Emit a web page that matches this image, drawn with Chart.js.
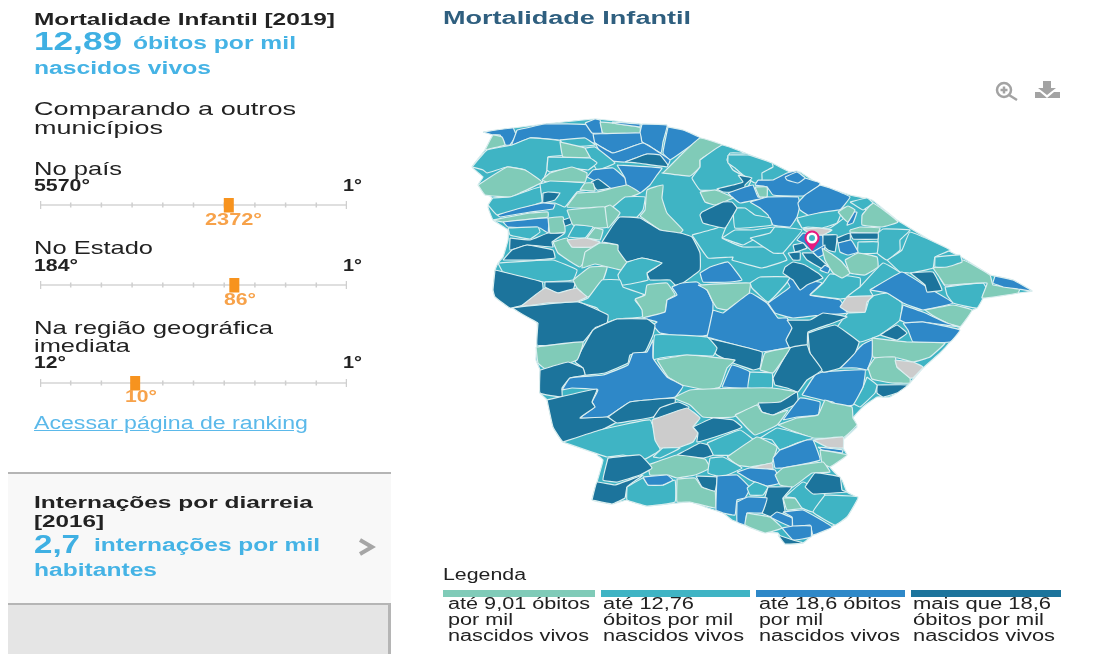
<!DOCTYPE html>
<html lang="pt-BR">
<head>
<meta charset="UTF-8">
<title>Mortalidade Infantil</title>
<script src="https://cdn.jsdelivr.net/npm/chart.js"></script>
<style>
html, body { margin: 0; padding: 0; background: #fff; }
body { width: 1099px; height: 654px; position: relative; overflow: hidden; font-family: "Liberation Sans", Arial, sans-serif; color: #222; }
.t { position: absolute; white-space: nowrap; transform-origin: left center; line-height: 1; filter: blur(0.25px); }
.b { font-weight: bold; }
.big { font-weight: bold; color: #3fb0e3; font-size: 25px; }
.unit { font-weight: bold; color: #45b3e5; font-size: 17.5px; }
.rank { font-weight: bold; color: #f7a24a; font-size: 16px; }
.body { font-size: 19px; }
.link { font-size: 18px; color: #5bb9ea; text-decoration: underline; }
.leg { font-size: 16px; }
#panel { position: absolute; left: 8px; top: 472px; width: 383px; height: 131px; background: #f8f8f8; border-top: 2px solid #b5b5b5; }
#panel2 { position: absolute; left: 8px; top: 603px; width: 380px; height: 51px; background: #e5e5e5; border-top: 2px solid #b5b5b5; border-right: 3px solid #b5b5b5; }
canvas { position: absolute; }
#map { left: 440px; top: 100px; filter: blur(0.5px); }
.bar { position: absolute; top: 590px; height: 7px; }
svg { position: absolute; }
</style>
</head>
<body>
<div id="panel"></div>
<div id="panel2"></div>

<div class="t b" style="left:34px;top:20px;font-size:16px" data-w="301">Mortalidade Infantil [2019]</div>
<div class="t big" style="left:34px;top:41px" data-w="88">12,89</div>
<div class="t unit" style="left:133px;top:44px" data-w="163">óbitos por mil</div>
<div class="t unit" style="left:34px;top:69px" data-w="177">nascidos vivos</div>
<div class="t body" style="left:34px;top:108px" data-w="262">Comparando a outros</div>
<div class="t body" style="left:34px;top:127px" data-w="129">municípios</div>

<div class="t body" style="left:34px;top:168px" data-w="88">No país</div>
<div class="t b" style="left:34px;top:186px;font-size:16px" data-w="56">5570°</div>
<div class="t b" style="left:343px;top:186px;font-size:16px" data-w="19">1°</div>
<canvas id="slider0" width="320" height="24" style="left:34px;top:193px"></canvas>
<div class="t rank" style="left:205px;top:220px" data-w="57">2372°</div>

<div class="t body" style="left:34px;top:247px" data-w="119">No Estado</div>
<div class="t b" style="left:34px;top:266px;font-size:16px" data-w="44">184°</div>
<div class="t b" style="left:343px;top:266px;font-size:16px" data-w="19">1°</div>
<canvas id="slider1" width="320" height="24" style="left:34px;top:273px"></canvas>
<div class="t rank" style="left:224px;top:300px" data-w="32">86°</div>

<div class="t body" style="left:34px;top:327px" data-w="239">Na região geográfica</div>
<div class="t body" style="left:34px;top:345px" data-w="96">imediata</div>
<div class="t b" style="left:34px;top:363px;font-size:16px" data-w="32">12°</div>
<div class="t b" style="left:343px;top:363px;font-size:16px" data-w="19">1°</div>
<canvas id="slider2" width="320" height="24" style="left:34px;top:371px"></canvas>
<div class="t rank" style="left:125px;top:397px" data-w="32">10°</div>

<div class="t link" style="left:34px;top:423px" data-w="274">Acessar página de ranking</div>

<div class="t b" style="left:34px;top:503px;font-size:16px" data-w="279">Internações por diarreia</div>
<div class="t b" style="left:34px;top:522px;font-size:16px" data-w="70">[2016]</div>
<div class="t big" style="left:34px;top:544px" data-w="46">2,7</div>
<div class="t unit" style="left:94px;top:546px" data-w="226">internações por mil</div>
<div class="t unit" style="left:34px;top:571px" data-w="123">habitantes</div>
<svg style="left:356px;top:538px" width="22" height="18"><polyline points="4,2 16,9 4,16" fill="none" stroke="#a6a6a6" stroke-width="4"/></svg>

<div class="t b" style="left:443px;top:18px;font-size:18px;color:#2f5f7f" data-w="248">Mortalidade Infantil</div>
<svg style="left:990px;top:80px" width="32" height="22"><circle cx="14" cy="10" r="7" fill="none" stroke="#a3a3a3" stroke-width="2.5"/><path d="M19 15 L27 20 M10.5 10 H17.5 M14 6.5 V13.5" stroke="#a3a3a3" stroke-width="2.5"/></svg>
<svg style="left:1033px;top:80px" width="30" height="20"><path d="M10 1 H18 V8 H23 L14 15 L5 8 H10 Z M2 12 H7 L14 18 L21 12 H27 V18 H2 Z" fill="#a3a3a3"/></svg>

<canvas id="map" width="640" height="470"></canvas>

<div class="t leg" style="left:443px;top:575px" data-w="83">Legenda</div>
<div id="legend"></div>

<script>
// map classes, from the legend
const classColors = ["#80cbb8", "#3fb4c4", "#2e88c8", "#1c749c", "#cccccc"];
const legendLines = [
    ["até 9,01 óbitos", "por mil", "nascidos vivos"],
    ["até 12,76", "óbitos por mil", "nascidos vivos"],
    ["até 18,6 óbitos", "por mil", "nascidos vivos"],
    ["mais que 18,6", "óbitos por mil", "nascidos vivos"]
];

// rank sliders: 11 marks, the marker sits on this 0-10 axis
const sliderTicks = [0, 1, 2, 3, 4, 5, 6, 7, 8, 9, 10];
const sliderMarks = [6.15, 6.33, 3.1];

// municipalities: [class, [x,y, x,y, ...]], painted in this order
const stateOutline = [483,132,513,128,545,124,595,119,640,124,668,127,700,138,722,145,745,153,772,163,790,172,800,172,820,185,850,195,872,200,897,220,943,248,963,258,990,275,995,276,1013,280,1032,291,1018,293,982,298,977,308,967,313,960,327,950,342,940,353,923,368,908,385,890,397,877,397,863,407,853,418,857,427,843,440,843,448,847,455,830,467,842,480,847,492,858,498,847,517,835,525,813,535,803,543,785,544,778,533,763,532,745,525,732,520,723,513,708,508,690,502,647,506,627,500,612,504,592,500,597,482,603,460,597,455,600,453,563,442,553,427,547,400,540,393,540,370,536,360,537,323,513,308,495,297,493,290,495,270,498,263,503,257,508,240,508,230,493,220,488,207,492,198,478,185,483,177,472,167,485,150,493,135];
const regions = [
    // north west
    [2,[483,132,513,128,516,135,510,145,505,145,500,135,493,135]],
    [0,[485,150,493,135,502,137,505,145]],
    [2,[517,130,545,124,590,125,595,143,560,140,530,138,512,145]],
    [2,[585,123,595,119,600,120,602,133,592,133]],
    [0,[600,122,612,123,640,127,640,133,603,133]],
    [2,[612,122,640,124,640,127,612,123]],
    [2,[642,124,667,125,663,142,661,153,642,142,640,133]],
    [2,[668,127,683,130,700,138,670,160,663,153]],
    [2,[593,134,640,133,642,142,648,145,660,153,643,143,613,153,595,143]],
    [2,[595,143,613,153,643,143,660,153,670,160,668,165,647,154,625,162,605,160]],
    [3,[625,162,647,154,660,155,668,165,667,167,637,163]],
    [1,[472,167,487,150,512,145,530,138,560,141,563,155,548,157,547,170,542,182,525,170,507,167,487,173,483,170]],
    [1,[560,140,585,138,595,145,565,147]],
    [0,[560,142,585,148,590,157,563,157]],
    [1,[585,148,595,147,615,163,597,170,590,157]],
    [1,[548,157,590,158,597,163,588,170,570,168,550,172,547,170]],
    [0,[550,173,572,167,587,173,585,182,547,182,542,180]],
    [0,[478,185,507,167,525,170,542,182,520,193,510,197,485,195]],
    [2,[587,177,593,170,613,168,625,178,627,188,610,188,593,180]],
    [3,[591,182,598,179,610,188,597,190]],
    [2,[617,165,662,168,657,175,650,185,640,193,627,188,625,178]],
    [0,[663,173,683,153,700,138,722,145,700,160,700,167,690,176,662,173]],
    // north centre
    [1,[700,160,722,145,745,153,730,153,727,160,733,170,742,175,752,178,747,188,718,190,700,190,692,178,700,167]],
    [1,[728,155,748,155,772,163,773,167,762,173,762,180,755,183,743,175,735,168,728,163]],
    [3,[738,175,752,178,745,185,745,192,723,192,717,189,733,185,743,182]],
    [2,[758,180,773,180,787,173,797,171,805,178,820,183,813,195,803,196,773,195,767,187,755,185]],
    [2,[785,177,797,172,805,178,798,183,787,180]],
    [0,[755,187,767,187,767,197,760,198]],
    [2,[728,193,745,187,753,185,758,197,768,197,740,203,732,197]],
    [2,[750,202,768,197,798,197,800,205,797,217,790,227,773,225,768,215,760,208]],
    [2,[820,185,830,188,850,197,838,212,817,220,800,210,798,203,805,195]],
    [1,[797,220,805,217,817,222,837,212,845,207,845,217,830,228,803,228]],
    [0,[700,192,715,190,728,195,733,198,715,205,705,202]],
    [1,[733,208,745,208,755,215,770,218,772,225,735,228]],
    [1,[722,238,735,230,753,230,775,227,772,237,757,238,743,245]],
    [1,[692,235,717,228,728,222,722,238,743,247,768,247,783,253,787,260,762,268,732,260,733,257,708,258]],
    [3,[702,212,723,202,732,202,737,208,732,217,725,228,703,223,700,215]],
    // west
    [1,[488,205,493,198,510,197,540,187,542,202,517,210,497,215]],
    [1,[540,184,550,181,585,183,587,190,577,192,565,207,555,203,543,203]],
    [3,[543,193,548,192,560,193,555,200,543,203]],
    [2,[497,215,517,209,543,203,555,204,553,209,530,212,500,217]],
    [0,[493,220,530,213,548,212,548,217,503,222]],
    [2,[503,222,548,218,548,233,540,228,508,227]],
    [1,[508,228,538,227,540,232,530,239,510,235]],
    [3,[510,238,530,240,548,233,565,233,552,242,553,247,527,245,510,250]],
    [3,[503,260,512,250,527,245,553,250,555,258,533,260]],
    [0,[548,218,563,217,565,232,550,233]],
    [3,[563,220,572,217,573,223,565,226]],
    [0,[580,190,585,183,593,183,595,191]],
    [0,[577,193,597,192,627,185,640,193,622,200,612,207,587,208,567,207]],
    [1,[613,207,625,197,645,197,643,210,637,217,617,217]],
    [0,[640,216,645,210,647,190,663,185,662,198,667,213,683,230,680,233,660,230]],
    [0,[567,210,587,208,605,207,608,227,597,228,573,225]],
    [0,[605,207,610,205,620,213,608,228]],
    [1,[568,237,575,225,593,227,585,238]],
    [0,[587,238,595,228,603,230,600,240]],
    [0,[553,242,567,238,572,247,592,247,580,267,558,253]],
    [4,[567,240,585,238,600,242,592,247,572,247]],
    [0,[585,252,600,243,618,245,627,262,630,272,595,264,582,268]],
    [3,[602,242,613,225,620,217,640,218,660,230,680,233,692,237,700,253,700,270,683,283,677,287,670,280,650,280,647,273,662,263,642,258,627,262,618,250,618,245]],
    [1,[627,262,642,258,662,263,647,273,648,280,622,285,618,275]],
    [2,[700,273,710,267,728,262,742,280,730,282,703,282]],
    [1,[498,263,553,260,577,270,573,280,543,282,503,272]],
    [3,[495,270,542,282,543,293,523,305,510,308,495,297,493,290]],
    [3,[545,282,575,282,573,290,557,293,545,287]],
    [4,[520,307,545,288,558,293,577,288,587,297,572,303,547,303]],
    [0,[573,280,590,267,607,267,602,283,598,290,588,297,577,288]],
    [1,[578,302,588,298,602,280,620,280,623,287,645,295,635,300,643,310,642,317,617,319,608,322,597,308]],
    [0,[635,299,645,295,647,285,667,283,675,295,667,300,665,312,643,318,642,310]],
    [2,[667,300,677,295,672,287,682,283,697,282,707,290,713,303,713,312,723,315,708,335,690,337,660,333,653,325,657,322,643,318,665,312]],
    [0,[698,285,750,283,748,298,728,310,717,308,713,302,707,290]],
    // centre and east
    [2,[713,310,723,313,750,293,767,303,778,318,787,318,792,328,787,340,790,347,762,352,755,350,707,337,708,333]],
    [2,[768,303,790,287,785,278,793,278,822,283,810,295,840,300,847,313,822,315,793,318,775,313]],
    [1,[750,283,760,277,790,277,785,285,768,302,752,288]],
    [1,[810,295,823,283,830,274,860,278,860,287,847,298,840,299]],
    [1,[860,287,883,263,900,273,870,290,873,296,847,297]],
    [1,[837,327,848,313,865,312,870,297,887,293,902,303,900,320,880,335,860,342]],
    [4,[840,307,847,297,873,296,867,302,865,312,848,312]],
    [1,[887,260,902,250,910,232,950,250,935,257,933,268,910,273,900,272]],
    [2,[870,290,902,272,927,287,953,303,923,310,903,303,887,293]],
    [3,[910,273,933,272,942,290,927,292,925,285]],
    [3,[940,278,967,283,945,286]],
    [1,[945,287,983,283,987,290,977,308,953,303,947,295]],
    [0,[933,268,963,260,990,275,993,285,1020,288,1018,293,982,298,987,283,945,285,940,278]],
    [2,[995,276,1013,280,1032,291,1018,289,1003,287,993,283]],
    [1,[935,257,960,255,962,262,947,267,935,267]],
    [0,[925,310,953,305,972,310,960,327,947,323,932,315]],
    [2,[903,305,923,312,947,323,960,327,923,322,907,323,900,320]],
    [2,[903,323,923,322,960,330,950,342,913,342,908,330]],
    [3,[880,335,897,325,907,333,897,340]],
    [0,[872,338,907,342,945,343,930,357,913,362,898,358,873,357]],
    [2,[840,368,862,345,872,340,872,357,867,370,857,368]],
    [0,[868,368,875,358,895,357,897,367,910,378,910,383,892,383,872,379]],
    [4,[895,360,913,362,923,367,913,378,910,378,897,367]],
    [3,[877,385,908,385,897,393,883,397,877,393]],
    [1,[867,377,877,385,875,393,860,407,853,403,863,387]],
    [2,[802,395,815,375,823,372,865,370,863,387,853,405,840,407,833,402,822,400,810,397]],
    [3,[787,320,810,320,823,313,847,317,833,323,808,332,807,345,790,348,786,340,792,328]],
    [3,[808,333,835,325,859,342,855,353,840,368,823,372,810,353]],
    [3,[773,378,790,348,807,345,810,353,822,370,807,380,798,392,787,388,775,385]],
    [0,[760,370,765,353,790,348,773,373]],
    [3,[707,338,762,352,760,368,753,370,733,363,717,355,708,345]],
    [1,[653,360,655,335,707,337,717,348,713,356,687,355,660,358]],
    [2,[722,387,732,365,750,372,748,388]],
    [1,[750,372,772,373,772,388,748,388]],
    [0,[657,360,687,355,735,360,727,368,720,387,707,390,682,385,668,377]],
    [0,[673,398,690,390,748,388,772,388,797,392,780,402,757,405,733,417,703,417,690,405]],
    [3,[758,403,780,402,797,392,798,403,788,408,773,415,762,412]],
    [2,[783,420,800,398,820,402,818,415,797,417]],
    [0,[735,415,757,405,762,412,773,415,788,410,777,425,755,435,747,428]],
    [0,[778,425,797,418,818,415,825,400,833,403,852,407,853,418,857,425,843,438,813,438,790,430]],
    [4,[813,440,843,437,843,448,827,447]],
    [2,[818,447,843,450,842,453,822,450]],
    // around the pin
    [1,[750,238,773,253,783,253,790,245,802,230,775,227,770,233]],
    [1,[797,218,818,213,842,210,837,223,822,228,808,227,802,228]],
    [2,[852,212,857,212,853,223,847,225]],
    [2,[865,208,875,205,868,215]],
    [0,[838,212,848,206,855,210,848,222,843,218]],
    [0,[862,215,873,203,898,222,882,227,862,225]],
    [1,[850,202,867,198,873,203,863,210]],
    [0,[850,230,860,227,880,228,878,233,850,232]],
    [1,[878,233,883,229,910,230,900,240,900,250,887,260,877,253,878,242]],
    [1,[858,242,878,242,877,253,858,253]],
    [2,[803,233,822,235,825,245,813,252,803,243,797,240]],
    [4,[803,229,818,228,832,230,823,235,812,235]],
    [3,[823,235,837,235,835,252,828,250,823,245]],
    [3,[837,238,850,233,850,240,838,243]],
    [3,[850,233,878,233,878,239,853,239]],
    [2,[838,243,851,240,858,252,848,255,840,252]],
    [3,[793,245,803,243,807,248,795,252]],
    [3,[788,253,800,252,800,260,793,260]],
    [3,[802,253,813,253,830,268,828,272,807,260]],
    [2,[813,252,825,245,823,255,818,257]],
    [2,[825,265,830,268,828,273,820,270]],
    [3,[785,267,793,262,805,265,818,273,823,278,807,285,800,290,793,280,783,273]],
    [0,[822,248,833,255,842,262,850,273,842,278,833,273,825,260]],
    [0,[845,260,858,253,877,257,878,267,865,275,850,273]],
    // west, lower half
    [3,[538,323,513,308,578,302,608,315,607,323,595,328,583,342,553,345,537,345]],
    [3,[575,362,593,330,617,319,647,319,655,325,653,335,645,352,630,355,628,363,605,373,585,375,583,368]],
    [0,[536,347,583,342,577,360,547,370,538,363]],
    [3,[540,370,568,362,583,368,585,375,570,378,562,388,562,397,540,393]],
    [2,[562,390,570,378,603,375,628,365,633,353,647,352,653,340,653,358,667,377,683,386,675,397,630,402,607,417,580,418,595,407,592,402,598,390,572,388]],
    [3,[547,400,597,389,592,402,595,407,580,418,607,417,617,422,580,440,563,442,553,427]],
    [3,[608,417,630,402,675,398,675,403,653,417,617,423]],
    [3,[653,418,660,408,678,402,689,407,680,419]],
    // south
    [1,[563,442,600,430,650,420,657,440,660,450,645,459,623,455,607,457]],
    [4,[652,420,687,408,700,418,693,427,698,433,693,442,677,448,660,448,655,440]],
    [3,[693,427,713,418,733,420,742,427,727,433,697,442,698,433]],
    [1,[707,443,740,430,757,443,752,452,740,455,713,455]],
    [1,[760,438,777,428,797,433,813,438,797,443,780,450,772,440]],
    [0,[727,457,757,437,777,447,773,460,772,463,750,467,737,465]],
    [2,[773,458,780,450,807,440,813,440,820,460,783,468,775,468]],
    [4,[750,468,772,463,773,469]],
    [0,[820,450,847,455,830,467,822,463]],
    [1,[653,457,663,448,680,448,660,458]],
    [3,[677,455,700,443,708,445,713,455,703,458,687,457]],
    [0,[648,465,677,455,705,459,710,468,695,475,677,478,668,475,650,475]],
    [1,[710,458,723,457,742,468,722,477,708,473]],
    [3,[608,458,640,455,652,468,640,475,617,482,603,480]],
    [3,[592,500,597,482,615,485,643,475,627,487,625,498,612,504]],
    [1,[627,487,643,478,648,485,663,485,675,480,675,502,647,506,627,500]],
    [2,[643,477,667,475,673,480,663,485,648,485]],
    [0,[677,479,695,478,702,487,715,491,715,508,690,502,677,502]],
    [3,[696,476,717,477,715,491,702,487]],
    [2,[717,476,737,475,750,488,745,498,737,500,735,515,723,513,716,510]],
    [2,[737,472,750,468,775,470,780,483,767,486,750,480]],
    [0,[775,475,783,468,823,462,830,472,812,473,793,487,780,485]],
    [1,[747,488,755,482,768,487,763,495,750,495]],
    [3,[768,487,792,487,783,498,785,512,772,517,762,513,765,497]],
    [2,[737,502,748,497,767,498,762,513,747,513,745,525,737,522]],
    [0,[747,513,770,517,782,528,765,533,745,525]],
    [2,[783,512,803,510,832,527,813,535,810,525,793,527,792,517]],
    [2,[770,517,777,512,792,518,792,527,780,522]],
    [2,[782,528,793,526,811,526,811,537,793,540]],
    [3,[778,535,793,540,803,543,785,544]],
    [0,[783,498,795,498,802,508,787,510]],
    [1,[785,497,803,482,825,495,813,512,802,508,795,498]],
    [3,[805,487,815,473,840,477,842,490,847,492,813,494]],
    [1,[825,495,858,497,847,517,835,525,813,512]]
];
const pinPoint = [812, 241];

function toPoints(flat){
    const pts=[];
    for(let i=0;i<flat.length;i+=2) pts.push({x:flat[i],y:flat[i+1]});
    pts.push({x:flat[0],y:flat[1]});
    return pts;
}

function shapeDataset(flat,cls,order){
    return {
        data:toPoints(flat),
        showLine:true,
        fill:'shape',
        tension:0.1,
        backgroundColor:classColors[cls],
        borderColor:'#dbeeef',
        borderWidth:1.2,
        borderJoinStyle:'round',
        pointRadius:0,
        order:order
    };
}

// pin drawn once on a small canvas, used as point style
function makePin(){
    const c=document.createElement('canvas');
    c.width=18; c.height=22;
    const g=c.getContext('2d');
    g.fillStyle='#e8197f';
    g.beginPath();
    g.arc(9,8,7.5,Math.PI*0.85,Math.PI*0.15);
    g.lineTo(9,21);
    g.closePath();
    g.fill();
    g.fillStyle='#fff';
    g.beginPath(); g.arc(9,8,5.5,0,Math.PI*2); g.fill();
    g.fillStyle='#3fb4c4';
    g.beginPath(); g.arc(9,8,3,0,Math.PI*2); g.fill();
    return c;
}

const mapDatasets=[];
const total=regions.length+2;
mapDatasets.push(shapeDataset(stateOutline,1,total));
regions.forEach((r,i)=>{
    mapDatasets.push(shapeDataset(r[1],r[0],total-1-i));
});
mapDatasets.push({
    data:[{x:pinPoint[0],y:pinPoint[1]}],
    pointStyle:makePin(),
    order:0
});

new Chart(document.getElementById('map'),{
    type:'scatter',
    data:{datasets:mapDatasets},
    options:{
        responsive:false,
        animation:false,
        events:[],
        layout:{padding:0,autoPadding:false},
        plugins:{legend:{display:false},tooltip:{enabled:false}},
        scales:{
            x:{type:'linear',min:440,max:1080,display:false},
            y:{type:'linear',min:100,max:570,reverse:true,display:false}
        }
    }
});

sliderMarks.forEach((mark,i)=>{
    new Chart(document.getElementById('slider'+i),{
        type:'scatter',
        data:{datasets:[
            {data:[{x:mark,y:-7},{x:mark,y:7.5}],showLine:true,borderColor:'#f7931e',borderWidth:10,borderCapStyle:'butt',pointRadius:0,order:0},
            {data:[{x:0,y:0},{x:10,y:0}],showLine:true,borderColor:'#d4d4d4',borderWidth:1.5,pointRadius:0,order:2},
            {data:sliderTicks.map(t=>({x:t,y:0})),pointStyle:'line',rotation:90,
             pointRadius:sliderTicks.map(t=>(t===0||t===10)?4:2.5),
             pointBorderWidth:sliderTicks.map(t=>(t===0||t===10)?2.5:1.5),
             pointBorderColor:'#cfcfcf',order:1}
        ]},
        options:{
            responsive:false,
            animation:false,
            events:[],
            layout:{padding:{left:6,right:7,top:0,bottom:0},autoPadding:false},
            plugins:{legend:{display:false},tooltip:{enabled:false}},
            scales:{
                x:{type:'linear',min:0,max:10,display:false},
                y:{type:'linear',min:-12,max:12,reverse:true,display:false}
            }
        }
    });
});

// legend, from the class colours and lines above
const legendBars=[[443,152],[601,149],[756,149],[911,150]];
const legendX=[448,603,759,913];
const legendW=[[142,65,141],[91,130,141],[142,64,141],[138,131,142]];
const legendY=[604,620,636];
const legend=document.getElementById('legend');
legendLines.forEach((lines,c)=>{
    const bar=document.createElement('div');
    bar.className='bar';
    bar.style.left=legendBars[c][0]+'px';
    bar.style.width=legendBars[c][1]+'px';
    bar.style.background=classColors[c];
    legend.appendChild(bar);
    lines.forEach((txt,l)=>{
        const d=document.createElement('div');
        d.className='t leg';
        d.textContent=txt;
        d.style.left=legendX[c]+'px';
        d.style.top=legendY[l]+'px';
        d.dataset.w=legendW[c][l];
        legend.appendChild(d);
    });
});

// the reference text is stretched sideways, fit each line to its read width
document.querySelectorAll('.t').forEach(el=>{
    const w=el.getBoundingClientRect().width;
    el.style.transform='translateY(-50%) scaleX('+(parseFloat(el.dataset.w)/w)+')';
});
</script>
</body>
</html>
